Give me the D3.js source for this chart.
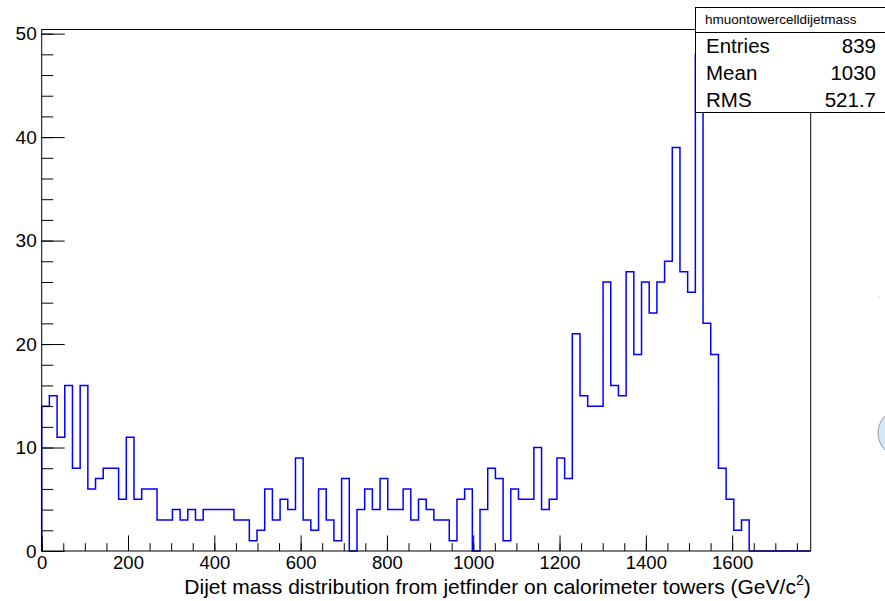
<!DOCTYPE html>
<html>
<head>
<meta charset="utf-8">
<script src="https://cdn.jsdelivr.net/npm/d3@7"></script>
<style>
  html, body { margin: 0; padding: 0; background: #fff; overflow: hidden; }
  svg { display: block; font-family: "Liberation Sans", Arial, Helvetica, sans-serif; }
</style>
</head>
<body>
<svg id="chart" width="885" height="601"></svg>
<script>
// histogram settings (100 bins)
const nBins = 100;
const xMin = 0;
const xMax = 1782;
const yMax = 50.4;

// bin contents
const counts = [
  14, 15, 11, 16, 8, 16, 6, 7, 8, 8,
  5, 11, 5, 6, 6, 3, 3, 4, 3, 4,
  3, 4, 4, 4, 4, 3, 3, 1, 2, 6,
  3, 5, 4, 9, 3, 2, 6, 3, 1, 7,
  0, 4, 6, 4, 7, 4, 4, 6, 3, 5,
  4, 3, 3, 1, 5, 6, 0, 4, 8, 7,
  1, 6, 5, 5, 10, 4, 5, 9, 7, 21,
  15, 14, 14, 26, 16, 15, 27, 19, 26, 23,
  26, 28, 39, 27, 25, 48, 22, 19, 8, 5,
  2, 3, 0, 0, 0, 0, 0, 0, 0, 0
];

const xMajorTicks = [0, 200, 400, 600, 800, 1000, 1200, 1400, 1600];
const yMajorTicks = [0, 10, 20, 30, 40, 50];

const histName = "hmuontowercelldijetmass";
const statNames = ["Entries", "Mean", "RMS"];
const statValues = ["839", "1030", "521.7"];

const xTitle = "Dijet mass distribution from jetfinder on calorimeter towers (GeV/c";

// frame
const frame = {left: 41.7, right: 810.7, top: 29.5, bottom: 551};

const svg = d3.select('#chart');

const x = d3.scaleLinear().domain([xMin, xMax]).range([frame.left, frame.right]);
const y = d3.scaleLinear().domain([0, yMax]).range([frame.bottom, frame.top]);

const binW = (xMax - xMin) / nBins;

// step outline of the histogram
const pts = counts.map((c, i) => [xMin + i * binW, c]);
pts.unshift([xMin, 0]);
pts.push([xMax, counts[nBins - 1]]);
pts.push([xMax, 0]);

const line = d3.line()
    .x(d => x(d[0]))
    .y(d => y(d[1]))
    .curve(d3.curveStepAfter);

svg.append('path')
    .datum(pts)
    .attr('d', line)
    .attr('fill', 'none')
    .attr('stroke', '#0000ff')
    .attr('stroke-width', 1.5);

// frame box
svg.append('rect')
    .attr('x', frame.left)
    .attr('y', frame.top)
    .attr('width', frame.right - frame.left)
    .attr('height', frame.bottom - frame.top)
    .attr('fill', 'none')
    .attr('stroke', '#000')
    .attr('stroke-width', 1);

// x axis: minor then major ticks, pointing inward
const xMinor = d3.range(xMin, xMax, 50);
const gxMinor = svg.append('g')
    .attr('transform', `translate(0,${frame.bottom})`)
    .call(d3.axisBottom(x).tickValues(xMinor).tickSize(-7.8).tickFormat(''));
gxMinor.select('.domain').remove();

const gx = svg.append('g')
    .attr('transform', `translate(0,${frame.bottom})`)
    .call(d3.axisBottom(x).tickValues(xMajorTicks).tickSize(-15.6).tickPadding(5).tickFormat(d3.format('d')));
gx.select('.domain').remove();
gx.selectAll('text').attr('font-size', 18.5).attr('fill', '#000').attr('font-family', null);

// y axis
const yMinor = d3.range(0, 51, 2);
const gyMinor = svg.append('g')
    .attr('transform', `translate(${frame.left},0)`)
    .call(d3.axisLeft(y).tickValues(yMinor).tickSize(-11.5).tickFormat(''));
gyMinor.select('.domain').remove();

const gy = svg.append('g')
    .attr('transform', `translate(${frame.left},0)`)
    .call(d3.axisLeft(y).tickValues(yMajorTicks).tickSize(-23).tickPadding(5).tickFormat(d3.format('d')));
gy.select('.domain').remove();
gy.selectAll('text').attr('font-size', 19).attr('fill', '#000').attr('font-family', null);

svg.selectAll('.tick line').attr('stroke', '#000');

// x axis title, right aligned at the end of the axis
const title = svg.append('text')
    .attr('x', frame.right)
    .attr('y', 594)
    .attr('text-anchor', 'end')
    .attr('font-size', 21)
    .attr('fill', '#000');
title.append('tspan').text(xTitle);
title.append('tspan').attr('font-size', 14).attr('dy', -9).text('2');
title.append('tspan').attr('dy', 9).text(')');

// stats box
const box = {left: 695.5, top: 7.5, bottom: 112.5, sep: 32.5};
svg.append('rect')
    .attr('x', box.left)
    .attr('y', box.top)
    .attr('width', 220)
    .attr('height', box.bottom - box.top)
    .attr('fill', '#fff')
    .attr('stroke', '#000')
    .attr('stroke-width', 1);
svg.append('line')
    .attr('x1', box.left).attr('x2', 900)
    .attr('y1', box.sep).attr('y2', box.sep)
    .attr('stroke', '#000');

svg.append('text')
    .attr('x', 705)
    .attr('y', 24)
    .attr('font-size', 13.5)
    .attr('fill', '#000')
    .text(histName);

const rowY = d3.scaleBand().domain(statNames).range([box.sep, box.bottom]);
statNames.forEach((name, i) => {
  const yy = rowY(name) + rowY.bandwidth() / 2 + 7.5;
  svg.append('text')
      .attr('x', 706).attr('y', yy)
      .attr('font-size', 20.5).attr('fill', '#000')
      .text(name);
  svg.append('text')
      .attr('x', 876).attr('y', yy)
      .attr('text-anchor', 'end')
      .attr('font-size', 20.5).attr('fill', '#000')
      .text(statValues[i]);
});

// stray bubble at the right edge of the screenshot
svg.append('ellipse')
    .attr('cx', 902).attr('cy', 433)
    .attr('rx', 24).attr('ry', 24)
    .attr('fill', '#d6e8f6')
    .attr('stroke', '#9a9a9a')
    .attr('stroke-width', 1);
svg.append('circle')
    .attr('cx', 879).attr('cy', 297).attr('r', 0.6)
    .attr('fill', '#999');
</script>
</body>
</html>
